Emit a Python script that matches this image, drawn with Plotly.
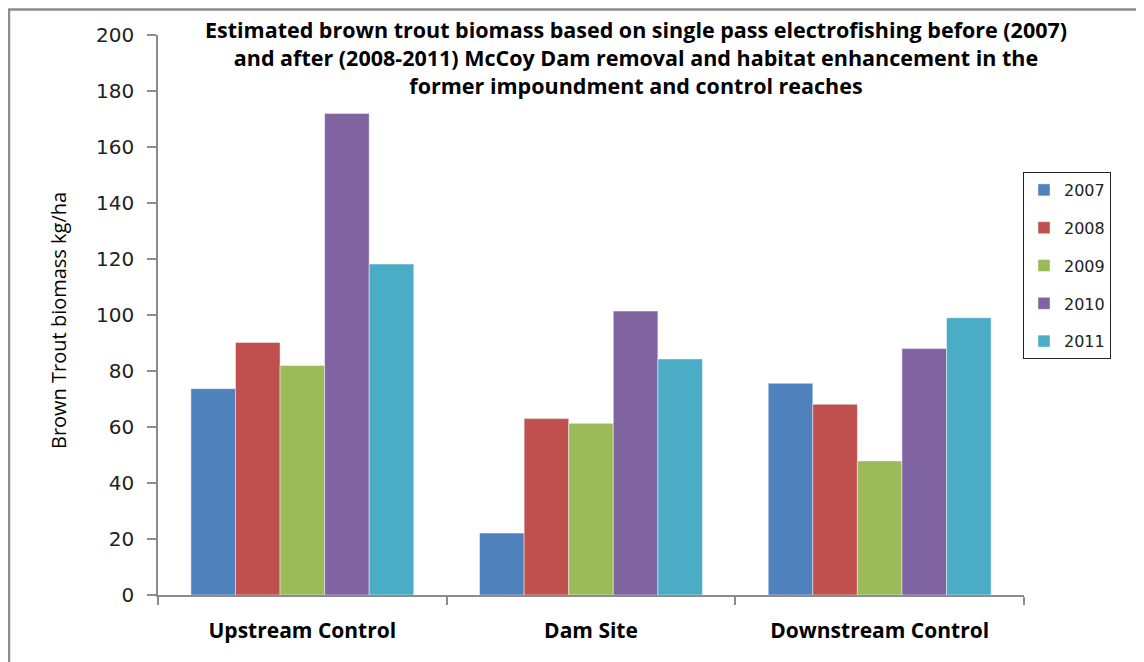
import plotly.graph_objects as go

categories = ["Upstream Control", "Dam Site", "Downstream Control"]
years = ["2007", "2008", "2009", "2010", "2011"]
biomass_2007 = [73.7, 22.1, 75.6]
biomass_2008 = [90.2, 63.0, 68.1]
biomass_2009 = [82.0, 61.3, 47.9]
biomass_2010 = [172.0, 101.4, 88.0]
biomass_2011 = [118.2, 84.3, 99.0]
series = [biomass_2007, biomass_2008, biomass_2009, biomass_2010, biomass_2011]
colors = ["#4F81BD", "#C0504D", "#9BBB59", "#8064A2", "#4BACC6"]
y_title = "Brown Trout biomass kg/ha"

fig = go.Figure()
for yr, vals, col in zip(years, series, colors):
    fig.add_trace(go.Bar(
        x=categories, y=vals, name=yr, legendgroup=yr,
        marker=dict(color=col, line=dict(color="rgba(255,255,255,0.45)", width=1)),
    ))

# the page body adds an 8px offset; figure coordinates = screen coordinates - 8
OFF = 8
W, H = 1144 - OFF, 662 - OFF
L, R, T, B = 158 - OFF, 1144 - 1024, 35 - OFF, 662 - 595
pw, ph = W - L - R, H - T - B

def px_x(p):
    return (p - OFF - L) / pw

def px_y(p):
    return (H - B - (p - OFF)) / ph

fig.update_layout(
    width=W, height=H,
    margin=dict(l=L, r=R, t=T, b=B, pad=0),
    paper_bgcolor="white", plot_bgcolor="white",
    barmode="group", bargap=0.228, bargroupgap=0,
    font=dict(family="Open Sans", color="#000000"),
    title=dict(
        text="Estimated brown trout biomass based on single pass electrofishing before (2007)<br>"
             "and after (2008-2011) McCoy Dam removal and habitat enhancement in the<br>"
             "former impoundment and control reaches",
        x=(636 - OFF) / W, xanchor="center", y=1 - 30 / H, yanchor="top",
        font=dict(family="Open Sans", size=21.5, weight="bold", color="#000000"),
    ),
    legend=dict(
        x=px_x(1023), y=px_y(172), xanchor="left", yanchor="top",
        bordercolor="#222222", borderwidth=1, bgcolor="white",
        font=dict(family="DejaVu Sans", size=16, color="#222222"),
        tracegroupgap=14, traceorder="grouped",
    ),
    xaxis=dict(
        showline=True, linecolor="#8c8c8c", linewidth=1.5,
        ticks="outside", ticklen=8, tickcolor="#8c8c8c", tickwidth=1.5,
        tickson="boundaries", showgrid=False,
        tickfont=dict(family="Open Sans", size=21, weight="bold", color="#000000"),
        ticklabelstandoff=16,
    ),
    yaxis=dict(
        range=[0, 200], dtick=20, showgrid=False, zeroline=False,
        showline=True, linecolor="#8c8c8c", linewidth=1.5,
        ticks="outside", ticklen=9, tickcolor="#8c8c8c", tickwidth=1.5,
        tickfont=dict(family="DejaVu Sans", size=20, color="#222222"),
        ticklabelstandoff=9,
    ),
    annotations=[dict(
        text=y_title, textangle=-90, showarrow=False,
        xref="paper", yref="paper", x=px_x(58), y=px_y(321),
        xanchor="center", yanchor="middle",
        font=dict(family="Open Sans", size=20, color="#000000"),
    )],
    shapes=[dict(
        type="rect", xref="paper", yref="paper",
        x0=px_x(9), x1=px_x(1180), y0=px_y(700), y1=px_y(9.5),
        line=dict(color="#8c8c8c", width=2.5), fillcolor="rgba(0,0,0,0)", layer="above",
    )],
)

fig.write_html("out.html")
